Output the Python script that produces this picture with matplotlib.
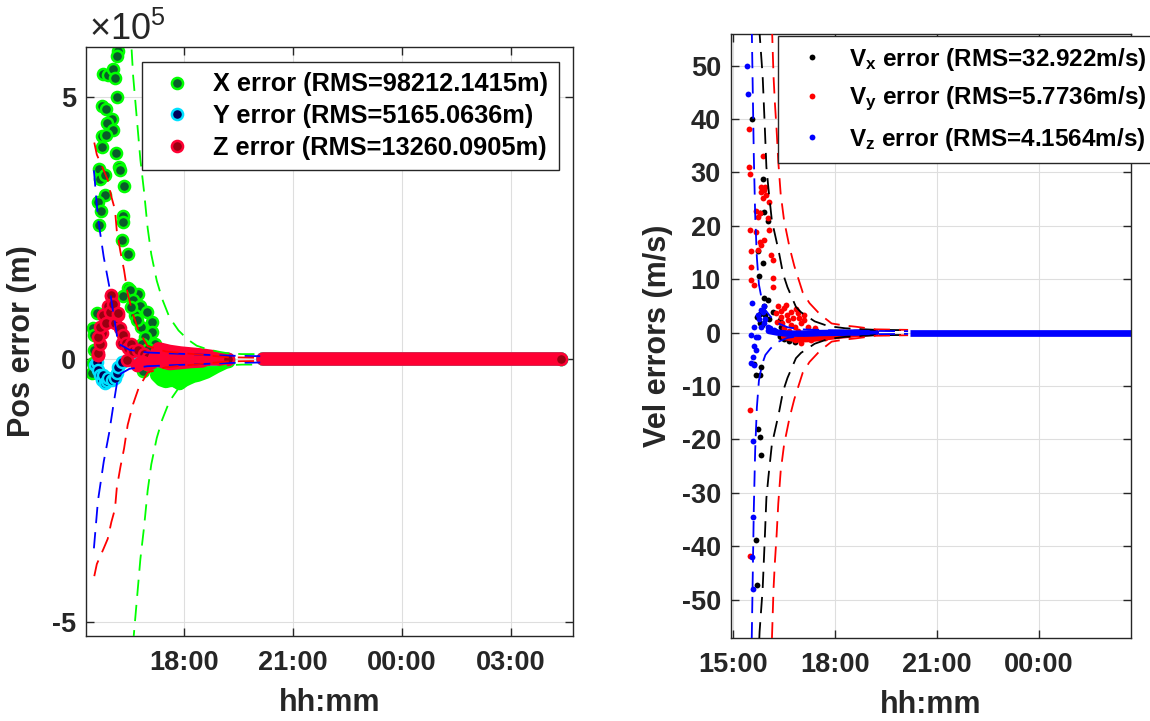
import numpy as np
import matplotlib
matplotlib.use('Agg')
import matplotlib.pyplot as plt

plt.rcParams['font.family'] = ['Liberation Sans', 'DejaVu Sans']
plt.rcParams['font.weight'] = 'bold'
plt.rcParams['axes.labelweight'] = 'bold'
plt.rcParams['axes.unicode_minus'] = False
plt.rcParams['mathtext.fontset'] = 'custom'
plt.rcParams['mathtext.rm'] = 'Liberation Sans:bold'
plt.rcParams['mathtext.bf'] = 'Liberation Sans:bold'
plt.rcParams['mathtext.it'] = 'Liberation Sans:bold'

# ---------------- data (time in decimal hours, >24 = next day) ----------------
pos_scale = 1e5  # position values read in units of 1e5 m

# X position error: scattered early epochs
x_t = [16.17, 16.15, 15.78, 15.92, 16.05, 16.10, 16.15, 15.75, 15.84, 16.02, 15.87, 16.04,
       15.73, 15.85, 15.73, 16.12, 16.22, 16.24, 15.66, 15.69, 15.82, 16.35, 15.82, 15.64,
       15.71, 16.31, 15.66, 16.31, 16.28, 16.47, 16.47, 16.74, 16.51, 16.33, 16.60, 16.79,
       16.97, 17.11, 17.13, 17.20, 16.65, 15.60, 15.50, 15.53, 16.83, 16.93, 15.53, 15.46,
       15.50, 16.88, 16.55, 16.70, 16.85, 17.00, 16.95, 17.05]
x_v = [5.88, 5.77, 5.44, 5.42, 5.53, 5.36, 4.99, 4.82, 4.77, 4.58, 4.51, 4.37,
       4.26, 4.28, 4.04, 3.93, 3.67, 3.61, 3.62, 3.43, 3.51, 3.30, 3.13, 2.99,
       2.82, 2.73, 2.56, 2.62, 2.28, 2.00, 1.36, 1.25, 1.32, 1.20, 1.13, 1.01,
       0.91, 0.72, 0.53, 0.30, 0.85, 0.88, 0.59, 0.47, 0.62, 0.43, 0.18, -0.26,
       -0.07, -0.23, 1.00, 0.75, 0.30, 0.20, 0.05, -0.10]
# X dense epochs (converging wedge below zero)
x_band1_t = [17.25, 17.38, 17.50, 17.62, 17.75, 17.88, 18.00, 18.12, 18.25, 18.38, 18.50,
             18.62, 18.75, 18.88, 19.00, 19.12, 19.22]
x_band1_v = [-0.30, -0.39, -0.42, -0.40, -0.40, -0.46, -0.40, -0.36, -0.32, -0.30, -0.27,
             -0.24, -0.19, -0.14, -0.10, -0.06, -0.03]
x_band2_t = [17.30, 17.45, 17.60, 17.75, 17.90, 18.05, 18.20, 18.35, 18.50, 18.65, 18.80,
             18.95, 19.10]
x_band2_v = [-0.12, -0.18, -0.20, -0.20, -0.20, -0.18, -0.15, -0.13, -0.10, -0.08, -0.06,
             -0.04, -0.02]

# Y position error
y_t = [15.55, 15.60, 15.64, 15.68, 15.73, 15.78, 15.82, 15.87, 15.91, 16.01, 16.10, 16.15,
       16.19, 16.30, 16.50]
y_v = [-0.10, -0.05, -0.20, -0.30, -0.39, -0.30, -0.45, -0.42, -0.36, -0.39, -0.36, -0.26,
       -0.14, -0.05, -0.02]
y_band_t = [16.50, 17.00, 17.50, 18.00, 18.50, 19.20]
y_band_v = [-0.02, -0.03, -0.02, -0.01, 0.0, 0.0]

# Z position error
z_t = [15.62, 15.64, 15.63, 15.70, 15.74, 15.64, 15.69, 15.78, 15.85, 15.91, 15.95, 15.98,
       15.99, 16.05, 16.10, 16.19, 16.19, 16.25, 16.28, 16.33, 16.40, 16.42, 16.47, 16.55,
       16.60, 16.74, 16.90, 17.02]
z_v = [0.09, 0.09, 0.12, 0.30, 0.50, 0.43, 0.62, 0.85, 0.70, 1.01, 0.90, 1.20,
       1.23, 1.05, 0.70, 0.85, 0.88, 0.60, 0.31, 0.47, 0.31, -0.01, 0.21, 0.30,
       0.15, 0.18, 0.10, 0.05]
z_band_t = [16.72, 16.85, 17.00, 17.15, 17.30, 17.60, 17.90, 18.20, 18.50, 18.80,
            18.50, 18.20, 17.90, 17.60, 17.30, 17.25, 17.40, 17.55, 17.70, 17.85,
            18.00, 18.15, 18.30, 18.45, 18.60, 18.75, 18.90, 19.05, 19.20]
z_band_v = [-0.12, -0.05, -0.10, -0.05, 0.20, 0.15, 0.12, 0.10, 0.08, 0.05,
            -0.03, -0.04, -0.06, -0.08, -0.02, 0.10, 0.08, 0.06, 0.05, 0.04,
            0.03, 0.03, 0.02, 0.02, 0.01, 0.01, 0.01, 0.0, 0.0]

# converged tail (all components ~0)
pos_tail_t = [20.17, 28.38]
pos_tail_v = [0.0, 0.0]

# 3-sigma envelopes of position
x_sig_t = [16.45, 16.50, 16.60, 16.70, 16.80, 16.90, 17.00, 17.10, 17.25, 17.40, 17.60,
           17.85, 18.10, 18.35, 18.65, 19.00, 19.25, 19.60, 20.10]
x_sig = [7.5, 6.6, 5.4, 4.6, 3.8, 3.2, 2.5, 2.0, 1.5, 1.15, 0.8,
         0.55, 0.38, 0.26, 0.19, 0.14, 0.11, 0.10, 0.10]
y_sig_t = [15.52, 15.63, 15.79, 15.94, 16.05, 16.19, 16.50, 17.00, 19.20, 20.10]
y_sig = [3.6, 2.7, 1.95, 1.4, 0.9, 0.3, 0.18, 0.13, 0.07, 0.06]
z_sig_t = [15.53, 15.60, 15.79, 15.90, 16.00, 16.10, 16.15, 16.25, 16.35, 16.45, 16.60,
           16.75, 17.00, 17.50, 19.20, 20.10]
z_sig = [4.13, 3.9, 3.6, 3.42, 3.1, 2.85, 2.45, 2.05, 1.7, 1.25, 0.85,
         0.55, 0.25, 0.15, 0.04, 0.03]

# velocity errors (m/s)
vx_t = [15.56, 15.87, 15.78, 15.92, 16.02, 15.73, 15.89, 15.76, 15.92, 16.02, 15.71,
        15.78, 15.80, 15.90, 15.95, 16.05, 15.85, 16.17, 16.37, 16.42, 16.22, 16.76,
        16.81, 17.20, 16.50, 16.65, 17.00, 15.68, 15.63, 15.82, 15.79, 15.74, 15.79,
        15.82, 15.68, 15.71]
vx_v = [40.0, 28.7, 22.4, 22.5, 20.8, 15.2, 13.1, 10.5, 6.4, 6.1, 3.0,
        1.8, 3.5, 5.0, 3.2, 2.5, 1.5, 3.9, 2.4, 1.1, 0.2, -0.7,
        -1.7, -0.7, -1.2, -1.5, -1.4, -7.9, -5.9, -6.5, -8.0, -18.0, -19.5,
        -23.0, -38.9, -47.3]
vx_band_t = [16.40, 16.80, 17.20, 17.60, 18.00, 18.60, 19.20]
vx_band_v = [-0.8, -1.0, -0.7, -0.5, -0.3, -0.1, 0.0]

vy_t = [15.47, 15.87, 15.46, 15.51, 15.83, 15.94, 15.83, 15.92, 15.97, 15.87, 16.07,
        15.68, 15.78, 15.72, 16.02, 15.51, 15.68, 16.05, 15.78, 15.92, 15.83, 15.72,
        15.53, 16.12, 16.17, 15.53, 15.53, 16.17, 16.17, 15.61, 16.32, 16.51, 16.71,
        16.91, 16.42, 16.61, 17.01, 16.81, 16.51, 16.91, 17.10, 16.40, 16.60, 16.75,
        16.30, 16.45, 16.70, 16.95, 17.20, 16.55, 16.85, 17.10, 16.65, 17.40, 16.25,
        16.81, 17.01, 17.30, 17.50, 17.70, 15.51, 15.51]
vy_v = [38.1, 33.0, 31.0, 29.7, 27.2, 27.3, 26.4, 26.7, 25.8, 25.2, 24.5,
        22.7, 22.4, 21.7, 21.4, 19.2, 18.9, 19.2, 17.0, 17.4, 16.4, 15.5,
        15.2, 14.5, 13.6, 12.2, 9.9, 10.2, 8.6, 8.9, 4.9, 4.6, 3.9,
        3.6, 3.0, 2.4, 1.8, 1.1, 0.8, 0.2, 2.4, 4.0, 3.3, 2.8,
        2.0, 1.8, 1.5, 2.8, 1.0, 5.2, 4.5, 3.2, 0.3, 0.8, 3.6,
        -1.4, -2.0, -1.4, -0.8, -1.0, -14.5, -41.9]
vy_band_t = [16.50, 16.90, 17.30, 17.70, 18.10, 18.60, 19.20]
vy_band_v = [-0.8, -1.3, -1.2, -0.9, -0.6, -0.3, 0.0]

vz_t = [15.40, 15.43, 15.56, 15.92, 15.83, 15.73, 15.75, 15.88, 15.95, 15.92, 16.02,
        15.83, 16.10, 16.20, 15.63, 15.53, 15.68, 15.73, 15.63, 15.68, 15.58, 15.53,
        15.63, 15.60, 15.60, 15.55, 15.58]
vz_v = [50.0, 44.6, 5.5, 4.9, 4.3, 3.3, 2.5, 3.8, 2.5, 1.8, 1.1,
        1.1, 0.8, 0.5, 1.1, -0.4, -0.75, -0.75, -2.6, -3.2, -4.5, -5.7,
        -6.0, -20.3, -34.5, -42.1, -48.1]
vz_band_t = [16.05, 16.30, 16.60, 17.00, 17.50, 18.00, 18.60, 19.20]
vz_band_v = [0.3, 0.0, -0.2, -0.2, -0.1, -0.05, 0.0, 0.0]
vel_tail_t = [20.20, 28.38]
vel_tail_v = [0.0, 0.0]

# 3-sigma envelopes of velocity
vx_sig_t = [15.74, 15.78, 15.87, 15.93, 15.98, 16.04, 16.14, 16.35, 16.47, 16.60, 16.85,
            17.00, 17.40, 17.80, 18.30, 19.20, 20.15]
vx_sig = [62, 56, 48, 39, 31, 27, 21, 15, 11, 8.5, 4.8,
          3.8, 2.1, 1.2, 0.8, 0.5, 0.45]
vy_sig_t = [16.12, 16.15, 16.19, 16.23, 16.28, 16.33, 16.40, 16.50, 16.66, 16.80, 17.05,
            17.25, 17.50, 17.70, 17.90, 18.30, 18.60, 19.20, 20.15]
vy_sig = [62, 56, 48, 43, 38, 32, 26, 21, 16, 12.5, 7.5,
          5.5, 3.8, 2.7, 1.7, 1.3, 1.1, 0.6, 0.5]
vz_sig_t = [15.52, 15.55, 15.58, 15.61, 15.65, 15.70, 15.76, 15.85, 15.95, 16.10, 16.30,
            16.60, 17.00, 18.00, 19.20, 20.15]
vz_sig = [62, 57, 45, 33, 22, 14, 9, 6, 4.2, 3.0, 1.8,
          1.0, 0.6, 0.4, 0.3, 0.25]

pos_labels = ['X error (RMS=98212.1415m)', 'Y error (RMS=5165.0636m)',
              'Z error (RMS=13260.0905m)']
vel_labels = [r'$\mathbf{V}_\mathbf{x}$ error (RMS=32.922m/s)',
              r'$\mathbf{V}_\mathbf{y}$ error (RMS=5.7736m/s)',
              r'$\mathbf{V}_\mathbf{z}$ error (RMS=4.1564m/s)']
pos_ticks = [18, 21, 24, 27]
pos_ticklabels = ['18:00', '21:00', '00:00', '03:00']
pos_yticks = [-5, 0, 5]
pos_yticklabels = ['-5', '0', '5']
vel_ticks = [15, 18, 21, 24]
vel_ticklabels = ['15:00', '18:00', '21:00', '00:00']

# ---------------- styling ----------------
axcol = '#262626'
ms_pos, mew_pos = 8.0, 1.8
ms_vel = 4.2
dash = (9, 5)


def s(v):
    return np.asarray(v) * pos_scale


def band(ax, t, v, lw, color, **mk):
    ax.plot(t, v, '-', color=color, lw=lw, solid_capstyle='round',
            solid_joinstyle='round')
    ax.plot(t[-1:], v[-1:], 'o', **mk)


def style_axes(ax):
    ax.grid(True, color='#dedede', lw=0.8)
    ax.set_axisbelow(True)
    ax.tick_params(direction='in', top=True, right=True, length=6, width=1,
                   colors=axcol, labelsize=19.5)
    ax.tick_params(axis='x', pad=10)
    ax.tick_params(axis='y', pad=7)
    for sp in ax.spines.values():
        sp.set_color(axcol)
        sp.set_linewidth(1.0)


fig = plt.figure(figsize=(11.5, 7.21), dpi=100)
ax1 = fig.add_axes([0.0744, 0.1179, 0.4238, 0.8169])
ax2 = fig.add_axes([0.6354, 0.1151, 0.3481, 0.8377])

# ---------------- position panel ----------------
series = [
    ('#0a5c2a', '#00ff00', x_t, x_v, [(x_band1_t, x_band1_v), (x_band2_t, x_band2_v)]),
    ('#00005a', '#00e1ff', y_t, y_v, [(y_band_t, y_band_v)]),
    ('#990011', '#ff0033', z_t, z_v, [(z_band_t, z_band_v)]),
]
handles = []
for (face, edge, t, v, bands), lab in zip(series, pos_labels):
    mk = dict(ms=ms_pos, mew=mew_pos, mfc=face, mec=edge, ls='none')
    h, = ax1.plot(t, s(v), 'o', label=lab, **mk)
    handles.append(h)
    for bt, bv in bands:
        band(ax1, bt, s(bv), ms_pos + mew_pos, edge, **mk)
    band(ax1, pos_tail_t, s(pos_tail_v), ms_pos + mew_pos, edge, **mk)

for st, sg, col in [(x_sig_t, x_sig, '#00ff00'), (y_sig_t, y_sig, '#0000ff'),
                    (z_sig_t, z_sig, '#ff0000')]:
    ax1.plot(st, s(sg), '--', color=col, lw=1.3, dashes=dash, zorder=3)
    ax1.plot(st, -s(sg), '--', color=col, lw=1.3, dashes=dash, zorder=3)

ax1.set_xlim(15.29, 28.71)
ax1.set_ylim(-5.27e5, 5.95e5)
ax1.set_xticks(pos_ticks)
ax1.set_xticklabels(pos_ticklabels)
ax1.set_yticks(s(pos_yticks))
ax1.set_yticklabels(pos_yticklabels)
style_axes(ax1)
ax1.text(0.008, 1.0119, r'$\mathdefault{\times10^{5}}$', transform=ax1.transAxes,
         fontsize=26, fontweight='normal', color=axcol, ha='left', va='baseline')
ax1.set_xlabel('hh:mm', fontsize=22, color=axcol, labelpad=9)
ax1.set_ylabel('Pos error (m)', fontsize=22, color=axcol)
ax1.yaxis.set_label_coords(-0.0997, 0.5)
leg1 = ax1.legend(handles=handles, loc='upper left', bbox_to_anchor=(0.116, 0.975),
                  borderaxespad=0, fontsize=18.3, frameon=True, fancybox=False,
                  framealpha=1, edgecolor=axcol, handlelength=1.9, handletextpad=0.47,
                  borderpad=0.42, labelspacing=0.3)
leg1.get_frame().set_linewidth(1.0)

# ---------------- velocity panel ----------------
vseries = [
    ('#000000', vx_t, vx_v, vx_band_t, vx_band_v),
    ('#ff0000', vy_t, vy_v, vy_band_t, vy_band_v),
    ('#0000ff', vz_t, vz_v, vz_band_t, vz_band_v),
]
vhandles = []
for (col, t, v, bt, bv), lab in zip(vseries, vel_labels):
    mk = dict(ms=ms_vel, mew=0, mfc=col, ls='none')
    h, = ax2.plot(t, v, 'o', label=lab, **mk)
    vhandles.append(h)
    ax2.plot(bt, bv, '-', color=col, lw=ms_vel * 1.1, solid_capstyle='round')
ax2.plot(vel_tail_t, vel_tail_v, '-', color='#0000ff', lw=ms_vel * 1.15,
         solid_capstyle='butt')

for st, sg, col in [(vx_sig_t, vx_sig, '#000000'), (vy_sig_t, vy_sig, '#ff0000'),
                    (vz_sig_t, vz_sig, '#0000ff')]:
    ax2.plot(st, sg, '--', color=col, lw=1.3, dashes=dash, zorder=3)
    ax2.plot(st, -np.asarray(sg), '--', color=col, lw=1.3, dashes=dash, zorder=3)

ax2.set_xlim(14.93, 26.71)
ax2.set_ylim(-57.2, 55.9)
ax2.set_xticks(vel_ticks)
ax2.set_xticklabels(vel_ticklabels)
ax2.set_yticks(np.arange(-50, 51, 10))
style_axes(ax2)
ax2.set_xlabel('hh:mm', fontsize=22, color=axcol, labelpad=9)
ax2.set_ylabel('Vel errors (m/s)', fontsize=22, color=axcol)
ax2.yaxis.set_label_coords(-0.145, 0.5)
leg2 = fig.legend(handles=vhandles, loc='upper left', bbox_to_anchor=(0.6763, 0.9505),
                  borderaxespad=0, fontsize=17.5, frameon=True, fancybox=False,
                  framealpha=1, edgecolor=axcol, handlelength=2.0, handletextpad=0.5,
                  borderpad=0.42, labelspacing=0.5, markerscale=1.0)
leg2.get_frame().set_linewidth(1.0)

fig.savefig('out.png', dpi=100)
